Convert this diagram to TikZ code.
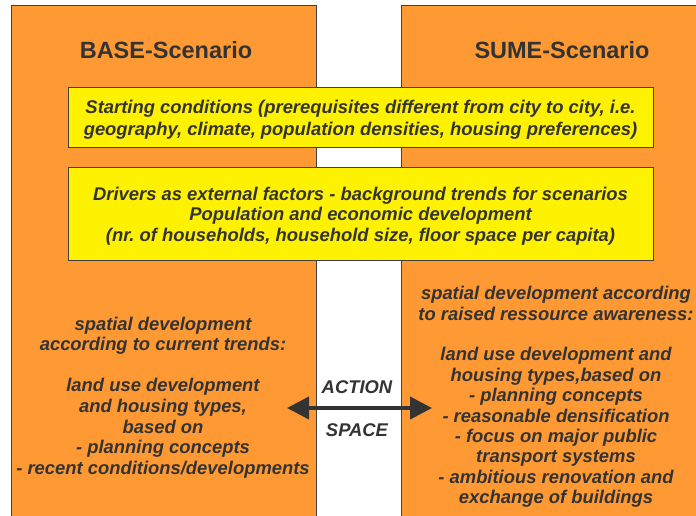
\documentclass[tikz,border=0pt]{standalone}
\usepackage{fontspec}
\setmainfont{Liberation Sans}
\usetikzlibrary{arrows.meta}
\definecolor{panelorange}{RGB}{255,153,51}
\definecolor{textgray}{RGB}{51,51,51}
\definecolor{linegray}{RGB}{64,64,64}

\begin{document}
\begin{tikzpicture}[x=1pt, y=-1pt,
    panel/.style={draw=linegray, fill=panelorange, line width=1pt, anchor=north west, inner sep=0pt},
    factor/.style={draw=linegray, fill=yellow, line width=1pt, minimum width=585pt, inner sep=0pt},
    heading/.style={text=textgray, font=\fontsize{23.5}{26}\selectfont\bfseries},
    body/.style={text=textgray, align=center, inner sep=0pt, font=\fontsize{18.4}{20.6}\selectfont\bfseries\itshape}]
      \useasboundingbox (0,0) rectangle (696,515);
      \clip (0,0) rectangle (696,515);
      % the two scenario panels
      \node[panel, minimum width=305pt, minimum height=530pt] (base) at (11,5) {};
      \node[panel, minimum width=310pt, minimum height=530pt] (sume) at (401,5) {};
      \node[heading] (basetitle) at (166,50) {BASE-Scenario};
      \node[heading] (sumetitle) at (562,50) {SUME-Scenario};
      % common frame conditions
      \node[factor, minimum height=60pt] (start) at (360.5,117) {};
      \node[body, font=\fontsize{18.4}{21.6}\selectfont\bfseries\itshape] (starttext) at (360.5,119.5)
        {Starting conditions (prerequisites different from city to city, i.e.\\
         geography, climate, population densities, housing preferences)};
      \node[factor, minimum height=93pt] (drivers) at (360.5,213.5) {};
      \node[body] (driverstext) at (360.5,216)
        {Drivers as external factors - background trends for scenarios\\
         Population and economic development\\
         (nr.\ of households, household size, floor space per capita)};
      % spatial development in each scenario
      \node[body] (basedev) at (163,397.5)
        {spatial development\\ according to current trends:\\[20.6pt]
         land use development\\ and housing types,\\ based on\\
         - planning concepts\\ - recent conditions/developments};
      \node[body, font=\fontsize{18.4}{20.4}\selectfont\bfseries\itshape] (sumedev) at (556,397)
        {spatial development according\\ to raised ressource awareness:\\[20.4pt]
         land use development and\\ housing types,based on\\ - planning concepts\\
         - reasonable densification\\ - focus on major public\\ transport systems\\
         - ambitious renovation and\\ exchange of buildings};
      % action space
      \coordinate (actl) at (287,408);
      \coordinate (actr) at (432,408);
      \draw[textgray, line width=4pt, {Triangle[length=22pt,width=22pt]}-{Triangle[length=22pt,width=22pt]}] (actl) -- (actr);
      \node[body] (action) at (357,387) {ACTION};
      \node[body] (space) at (357,430) {SPACE};
    \end{tikzpicture}
\end{document}
